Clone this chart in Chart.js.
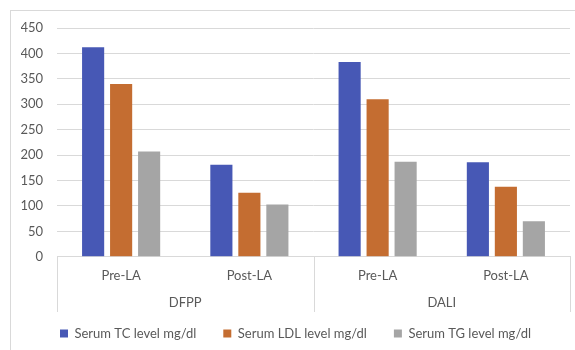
<!DOCTYPE html>
<html>
<head>
<meta charset="utf-8">
<script src="https://cdn.jsdelivr.net/npm/chart.js@4"></script>
<style>
  body { margin: 0; background: #fff; }
  #wrap {
    position: absolute;
    left: 10px;
    top: 10px;
    width: 564px;
    height: 339px;
    border-left: 1px solid #d9d9d9;
    border-top: 1px solid #d9d9d9;
  }
</style>
</head>
<body>
<div id="wrap"><canvas id="myChart"></canvas></div>
<script>
  const categories = ["Pre-LA", "Post-LA", "Pre-LA", "Post-LA"];
  const groups = ["DFPP", "DALI"];
  const tcLevels = [412, 181, 383, 186];
  const ldlLevels = [340, 126, 310, 138];
  const tgLevels = [207, 103, 187, 70];
  const seriesNames = ["Serum TC level mg/dl", "Serum LDL level mg/dl", "Serum TG level mg/dl"];
  const yMax = 450;
  const yStep = 50;

  const textColor = "#595959";
  const lineColor = "#d9d9d9";

  // vertical lines that split the two groups under the axis
  const groupLines = {
    id: "groupLines",
    afterDraw(chart) {
      const x = chart.scales.x;
      const x2 = chart.scales.x2;
      const ctx = chart.ctx;
      const mid = (x.getPixelForTick(1) + x.getPixelForTick(2)) / 2;
      ctx.save();
      ctx.strokeStyle = lineColor;
      ctx.lineWidth = 1;
      [x.left, mid, x.right].forEach((px) => {
        const p = Math.round(px) + 0.5;
        ctx.beginPath();
        ctx.moveTo(p, chart.chartArea.bottom);
        ctx.lineTo(p, x2.bottom);
        ctx.stroke();
      });
      ctx.restore();
    },
  };

  Chart.defaults.font.family = "Lato, 'Liberation Sans', sans-serif";
  Chart.defaults.font.size = 13;
  Chart.defaults.color = textColor;

  const data = {
    labels: categories,
    datasets: [
      { label: seriesNames[0], data: tcLevels, backgroundColor: "#4758b5" },
      { label: seriesNames[1], data: ldlLevels, backgroundColor: "#c46d31" },
      { label: seriesNames[2], data: tgLevels, backgroundColor: "#a5a5a5" },
    ],
  };

  const config = {
    type: "bar",
    data,
    plugins: [groupLines],
    options: {
      responsive: true,
      maintainAspectRatio: false,
      animation: false,
      categoryPercentage: 0.655,
      barPercentage: 0.79,
      layout: {
        padding: { left: 10, right: 5, top: 0, bottom: 0 },
      },
      plugins: {
        legend: {
          position: "bottom",
          // empty title only used to pull the legend row up
          title: {
            display: true,
            text: "",
            font: { size: 1, lineHeight: 0 },
            padding: { top: 0, bottom: -12 },
          },
          labels: {
            boxWidth: 8,
            boxHeight: 8,
            padding: 27,
            color: textColor,
          },
        },
        tooltip: { enabled: false },
      },
      scales: {
        x: {
          offset: true,
          grid: { display: false, drawTicks: false },
          border: { display: true, color: lineColor },
          ticks: { padding: 11, color: textColor },
        },
        x2: {
          type: "category",
          labels: groups,
          position: "bottom",
          offset: true,
          grid: { display: false, drawTicks: false },
          border: { display: false },
          ticks: { padding: 1, color: textColor },
        },
        y: {
          min: 0,
          max: yMax,
          ticks: { stepSize: yStep, padding: 14, color: textColor },
          grid: { color: lineColor, drawTicks: false },
          border: { display: false },
          afterFit: (scale) => {
            scale.width = 36;
            scale.paddingTop = 17;
          },
        },
      },
    },
  };

  var myChart = new Chart(document.getElementById("myChart"), config);
</script>
</body>
</html>
